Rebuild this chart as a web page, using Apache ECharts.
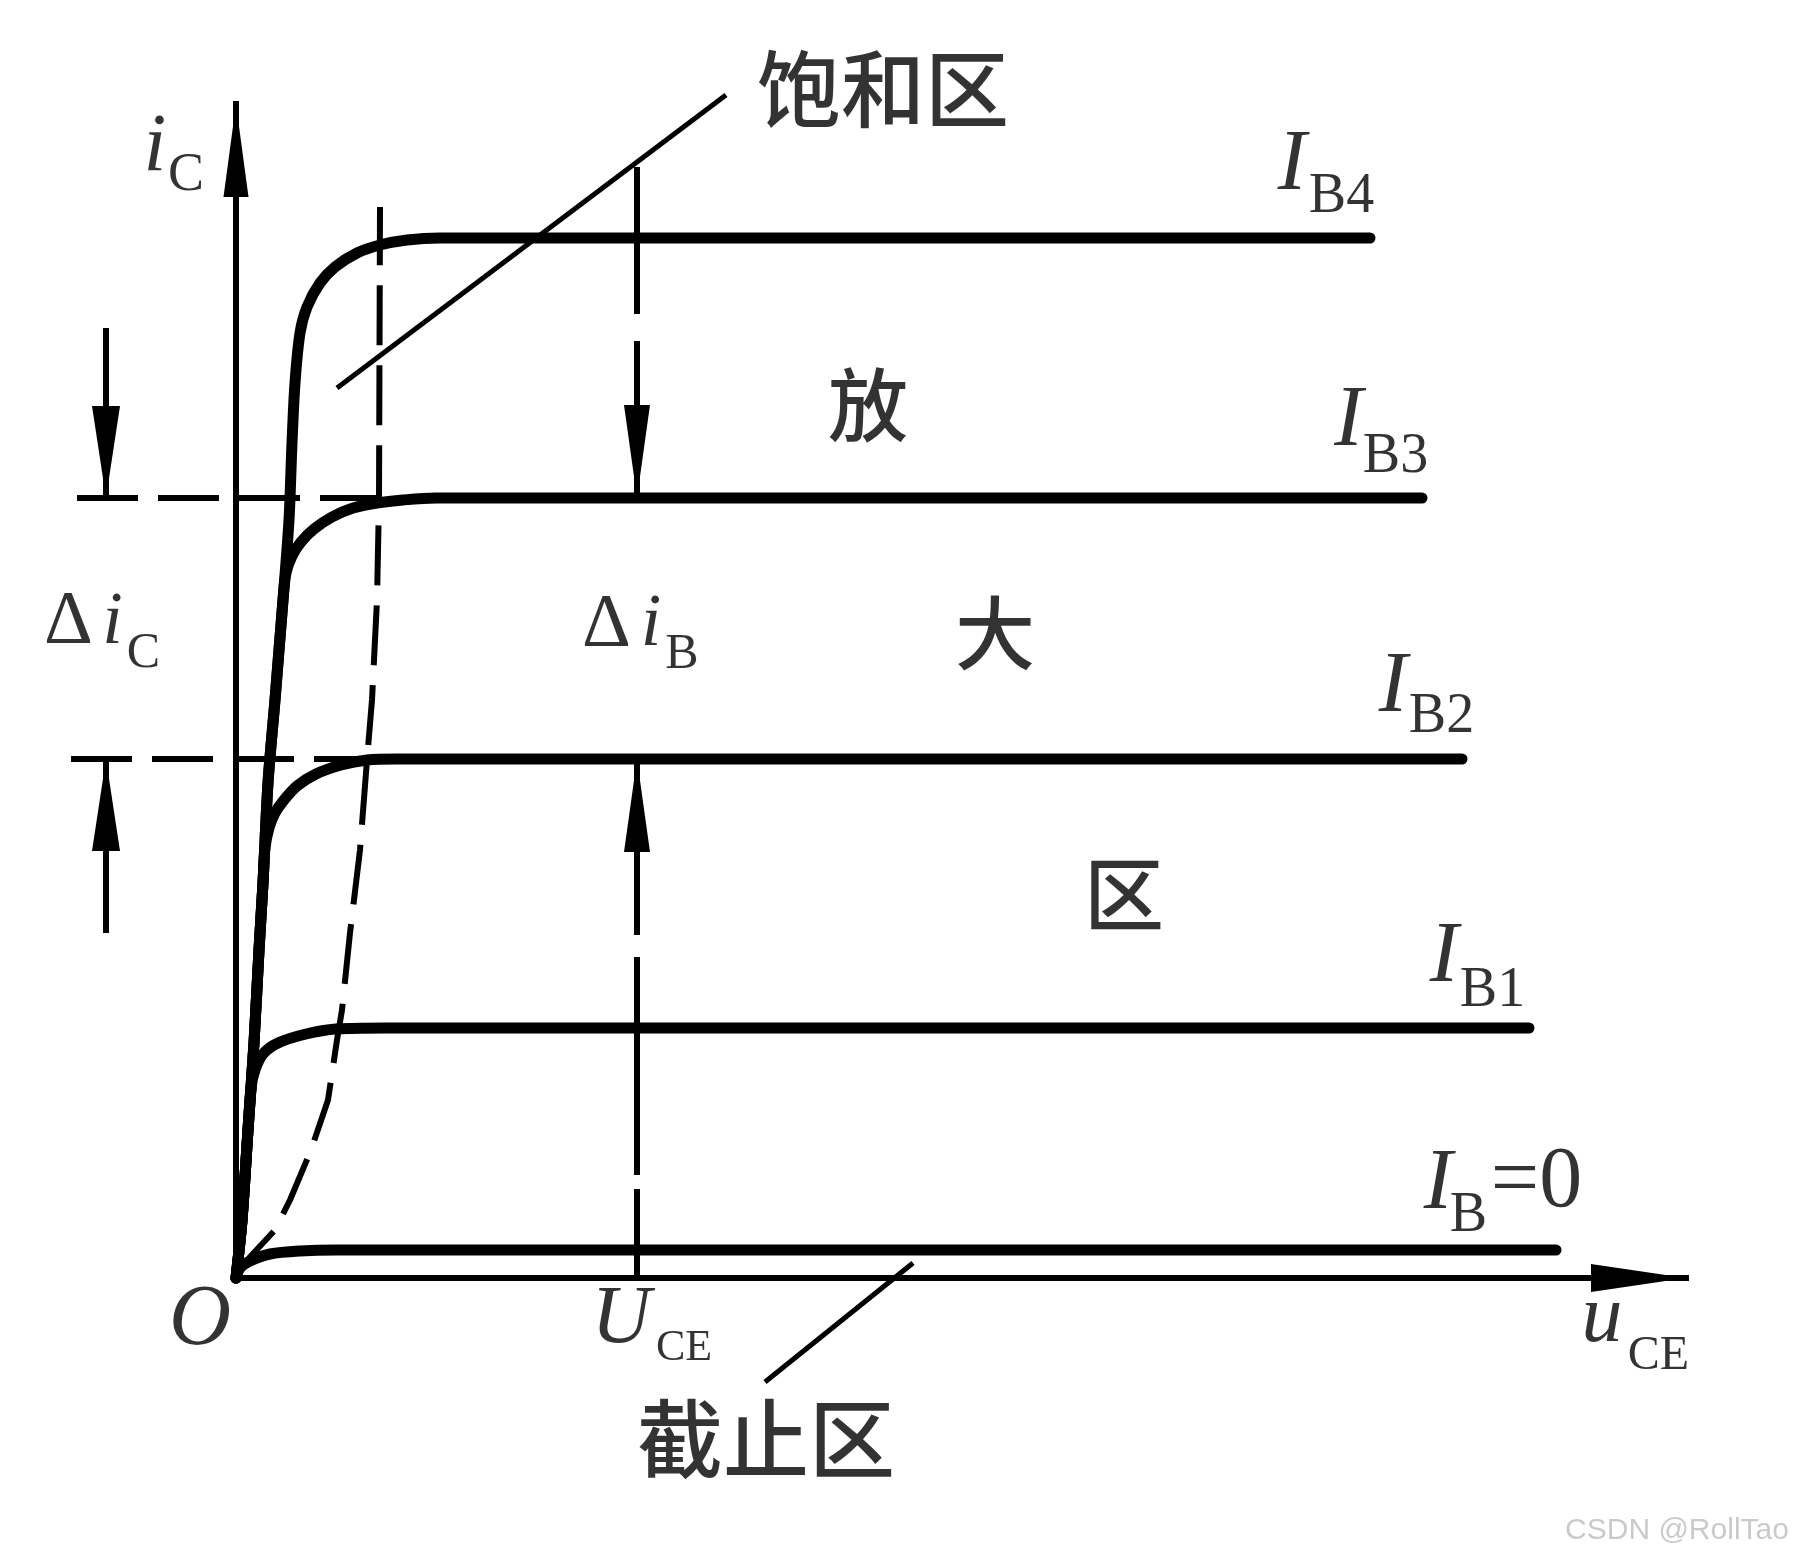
<!DOCTYPE html>
<html><head><meta charset="utf-8">
<script src="https://cdn.jsdelivr.net/npm/echarts@6/dist/echarts.min.js"></script>
<style>html,body{margin:0;padding:0;background:#fff}#c{width:1805px;height:1563px}</style>
</head><body><div id="c"></div>
<script>
// ---- data (u_CE on x, i_C on y; schematic units) ----
const curveIB4 = [[0,0],[0.06,0.58],[0.12,1.48],[0.18,2.35],[0.23,3.28],[0.27,3.95],[0.32,4.95],[0.39,5.78],[0.47,6.78],[0.53,7.58],[0.56,8.35],[0.59,8.95],[0.64,9.45],[0.71,9.71],[0.84,9.95],[0.99,10.11],[1.21,10.25],[1.44,10.33],[1.71,10.38],[2.04,10.40],[11.34,10.40]];
const curveIB3 = [[0,0],[0.06,0.58],[0.12,1.48],[0.18,2.35],[0.23,3.28],[0.27,3.95],[0.32,4.95],[0.39,5.78],[0.47,6.78],[0.50,7.05],[0.56,7.22],[0.65,7.36],[0.78,7.49],[0.96,7.61],[1.17,7.70],[1.41,7.75],[1.67,7.78],[2.00,7.80],[11.86,7.80]];
const curveIB2 = [[0,0],[0.06,0.58],[0.12,1.48],[0.18,2.35],[0.23,3.28],[0.27,3.95],[0.29,4.30],[0.33,4.50],[0.39,4.65],[0.48,4.78],[0.61,4.92],[0.80,5.04],[1.05,5.13],[1.31,5.18],[1.60,5.19],[12.26,5.19]];
const curveIB1 = [[0,0],[0.06,0.58],[0.12,1.48],[0.15,1.90],[0.19,2.08],[0.27,2.24],[0.42,2.35],[0.70,2.44],[1.00,2.49],[1.50,2.50],[12.93,2.50]];
const curveIB0 = [[0,0],[0.04,0.10],[0.14,0.17],[0.34,0.24],[0.64,0.27],[1.00,0.28],[13.20,0.28]];
const saturationBoundary = [[0,0],[0.14,0.21],[0.39,0.48],[0.54,0.78],[0.75,1.28],[0.92,1.78],[1.01,2.38],[1.06,2.68],[1.14,3.45],[1.24,4.28],[1.31,5.18],[1.36,5.78],[1.41,6.78],[1.43,7.78],[1.44,10.71]];
const saturationPointer = [[1.01,8.90],[4.90,11.83]];
const cutoffPointer = [[5.29,-1.04],[6.77,0.15]];
const levelIB3 = [[-1.59,7.80],[1.44,7.80]];
const levelIB2 = [[-1.65,5.19],[1.34,5.19]];
const deltaIcTop = [[-1.30,9.50],[-1.30,7.80]];
const deltaIcBottom = [[-1.30,3.45],[-1.30,5.19]];
const deltaIbTop = [[4.01,11.11],[4.01,7.80]];
const deltaIbBottom = [[4.01,5.19],[4.01,0]];
const xAxisLine = [[0,0],[14.5,0]];
const yAxisLine = [[0,0],[0,11.74]];
const xRange = [-2.36, 15.69];
const yRange = [-2.85, 12.78];

// ---- text annotations ----
const SERIF = '"Liberation Serif","Times New Roman",serif';
const CJK = '"Noto Sans CJK SC",sans-serif';
const annotations = [
  ['i', -0.81, 11.30, 82, 'italic', SERIF],
  ['C', -0.50, 11.025, 54, 'normal', SERIF],
  ['O', -0.36, -0.43, 86, 'italic', SERIF],
  ['Δ', -1.675, 6.55, 76, 'normal', SERIF],
  ['i', -1.235, 6.54, 74, 'italic', SERIF],
  ['C', -0.925, 6.245, 50, 'normal', SERIF],
  ['Δ', 3.705, 6.52, 76, 'normal', SERIF],
  ['i', 4.15, 6.52, 74, 'italic', SERIF],
  ['B', 4.46, 6.23, 50, 'normal', SERIF],
  ['I', 10.56, 11.12, 86, 'italic', SERIF],
  ['B4', 11.055, 10.805, 56, 'normal', SERIF],
  ['I', 11.125, 8.56, 86, 'italic', SERIF],
  ['B3', 11.595, 8.21, 56, 'normal', SERIF],
  ['I', 11.57, 5.90, 86, 'italic', SERIF],
  ['B2', 12.055, 5.61, 56, 'normal', SERIF],
  ['I', 12.08, 3.20, 86, 'italic', SERIF],
  ['B1', 12.565, 2.87, 56, 'normal', SERIF],
  ['I', 12.02, 0.93, 86, 'italic', SERIF],
  ['B', 12.325, 0.615, 56, 'normal', SERIF],
  ['=0', 13.005, 0.95, 86, 'normal', SERIF],
  ['u', 13.66, -0.41, 82, 'italic', SERIF],
  ['CE', 14.225, -0.78, 48, 'normal', SERIF],
  ['U', 3.85, -0.42, 82, 'italic', SERIF],
  ['CE', 4.48, -0.705, 44, 'normal', SERIF],
  ['饱和区', 6.47, 11.89, 84, 'cjk', CJK],
  ['放', 6.32, 8.73, 80, 'cjk', CJK],
  ['大', 7.59, 6.45, 80, 'cjk', CJK],
  ['区', 8.88, 3.84, 80, 'cjk', CJK],
  ['截止区', 5.30, -1.61, 86, 'cjk', CJK]
];
const watermark = ['CSDN @RollTao', 14.41, -2.53];

const ARROW = 'path://M0,0 L1,5 L-1,5 Z';
const BLACK = '#000';

function curve(name, data) {
  return {type:'line', name, data, smooth:0.3, symbol:'none', clip:false, silent:true,
    lineStyle:{color:BLACK, width:11, cap:'round', join:'round'}, z:3};
}
function plain(data, width, dash) {
  return {type:'line', data, symbol:'none', clip:false, silent:true,
    lineStyle:{color:BLACK, width, type:dash || 'solid', cap:'butt'}, z:2};
}
function arrowLine(data, arrowIdx, dir, width, dash, size, cap) {
  const half = size[1] / 2;
  const cfg = {
    up:{rot:0, off:[0, half]},
    down:{rot:180, off:[0, -half]},
    right:{rot:-90, off:[-half, 0]}
  }[dir];
  const items = data.map((p, i) => i === arrowIdx
    ? {value:p, symbol:ARROW, symbolSize:size, symbolRotate:cfg.rot, symbolOffset:cfg.off}
    : {value:p, symbol:'none'});
  return {type:'line', data:items, symbol:ARROW, showSymbol:true, clip:false, silent:true,
    itemStyle:{color:BLACK, borderWidth:0},
    lineStyle:{color:BLACK, width, type:dash || 'solid', cap:cap || 'butt'}, z:2};
}

const labelData = annotations.map(a => ({
  value:[a[1], a[2]],
  label:{formatter:a[0], fontSize:a[3],
    fontStyle:a[4] === 'italic' ? 'italic' : 'normal',
    fontWeight:a[4] === 'cjk' ? 500 : 'normal',
    fontFamily:a[5]}
}));
labelData.push({value:[watermark[1], watermark[2]],
  label:{formatter:watermark[0], fontSize:30, fontFamily:'"Liberation Sans",sans-serif', color:'#bdbdbd'}});

const hiddenAxis = {show:false, axisLine:{show:false}, axisTick:{show:false}, axisLabel:{show:false}, splitLine:{show:false}};
const option = {
  backgroundColor:'#fff',
  animation:false,
  grid:{left:0, top:0, right:0, bottom:0, containLabel:false},
  xAxis:Object.assign({type:'value', min:xRange[0], max:xRange[1]}, hiddenAxis),
  yAxis:Object.assign({type:'value', min:yRange[0], max:yRange[1]}, hiddenAxis),
  series:[
    arrowLine(xAxisLine, 1, 'right', 6, 'solid', [28,95], 'square'),
    arrowLine(yAxisLine, 1, 'up', 6, 'solid', [25,93], 'square'),
    curve('IB4', curveIB4),
    curve('IB3', curveIB3),
    curve('IB2', curveIB2),
    curve('IB1', curveIB1),
    curve('IB=0', curveIB0),
    plain(saturationBoundary, 6, [60,20]),
    plain(saturationPointer, 5),
    plain(cutoffPointer, 5),
    plain(levelIB3, 6, [61,20]),
    plain(levelIB2, 6, [61,20]),
    arrowLine(deltaIcTop, 1, 'down', 6, 'solid', [28,92]),
    arrowLine(deltaIcBottom, 1, 'up', 6, 'solid', [28,92]),
    arrowLine(deltaIbTop, 1, 'down', 6, [147,27,400,27], [26,93]),
    arrowLine(deltaIbBottom, 0, 'up', 6, [176,22,218,14], [26,93]),
    {type:'scatter', data:labelData, symbolSize:0, clip:false, silent:true, z:5,
      itemStyle:{color:'transparent'},
      label:{show:true, position:'inside', color:BLACK, textBorderWidth:0, align:'center', verticalAlign:'middle'},
      labelLayout:{hideOverlap:false}}
  ]
};
const chart = echarts.init(document.getElementById('c'), null, {renderer:'canvas'});
chart.setOption(option);
</script>
</body></html>
